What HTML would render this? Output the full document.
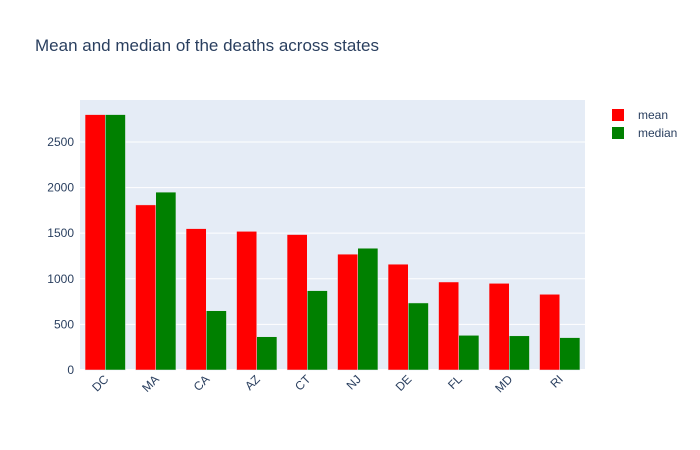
<!DOCTYPE html>
<html><head><meta charset="utf-8"><style>body{margin:0;background:#fff}svg{display:block;font-family:"Liberation Sans",sans-serif}</style></head>
<body>
<svg id="chart" width="700" height="450">
<rect width="700" height="450" fill="#fff"/>
<text x="35" y="51" font-size="17" fill="#2a3f5f">Mean and median of the deaths across states</text>
<rect x="80" y="100" width="505" height="270" fill="#e5ecf6"/>
<g id="grid"></g><g id="bars"></g><g id="xt"></g><g id="yt"></g>
<g>
<g><rect x="612" y="109" width="12" height="12" fill="red"/><text x="638" y="119" font-size="12" fill="#2a3f5f">mean</text></g>
<g><rect x="612" y="127" width="12" height="12" fill="green"/><text x="638" y="137" font-size="12" fill="#2a3f5f">median</text></g>
</g>
</svg>
<script>
const categories=["DC","MA","CA","AZ","CT","NJ","DE","FL","MD","RI"];
const meanValues=[2800,1810,1550,1520,1485,1270,1160,965,950,830];
const medianValues=[2800,1950,650,365,870,1335,735,380,375,355];
const yTicks=[0,500,1000,1500,2000,2500];
const NS="http://www.w3.org/2000/svg";
const x0=80,w=505,yb=370,h=270,ymax=2960;
const y=v=>yb-v/ymax*h;
const band=w/categories.length;
function mk(t,a,p){const e=document.createElementNS(NS,t);for(const k in a)e.setAttribute(k,a[k]);p.appendChild(e);return e;}
const grid=document.getElementById('grid'),yt=document.getElementById('yt'),xt=document.getElementById('xt'),bars=document.getElementById('bars');
yTicks.forEach(v=>{
 const l=mk('line',{x1:x0,x2:x0+w,y1:y(v),y2:y(v),stroke:'#fff','stroke-width':v===0?2:1},grid);
 
 
 const t=mk('text',{x:x0-6,y:y(v)+4,'text-anchor':'end','font-size':12,fill:'#2a3f5f'},yt);
 t.textContent=v;
 
 
});
categories.forEach((c,i)=>{
 const gx=x0+band*i+band*0.1,bw=band*0.4;
 const r1=mk('rect',{x:gx,y:y(meanValues[i]),width:bw,height:yb-y(meanValues[i]),fill:'red',stroke:'#e5ecf6','stroke-width':0.5},bars);
 
 
 const r2=mk('rect',{x:gx+bw,y:y(medianValues[i]),width:bw,height:yb-y(medianValues[i]),fill:'green',stroke:'#e5ecf6','stroke-width':0.5},bars);
 
 
 const cx=x0+band*(i+0.5);
 const t=mk('text',{x:cx+4,y:yb+10,'text-anchor':'end','font-size':12,fill:'#2a3f5f',transform:`rotate(-45 ${cx+4} ${yb+10})`},xt);
 t.textContent=c;
 
 
});
</script>
</body></html>
